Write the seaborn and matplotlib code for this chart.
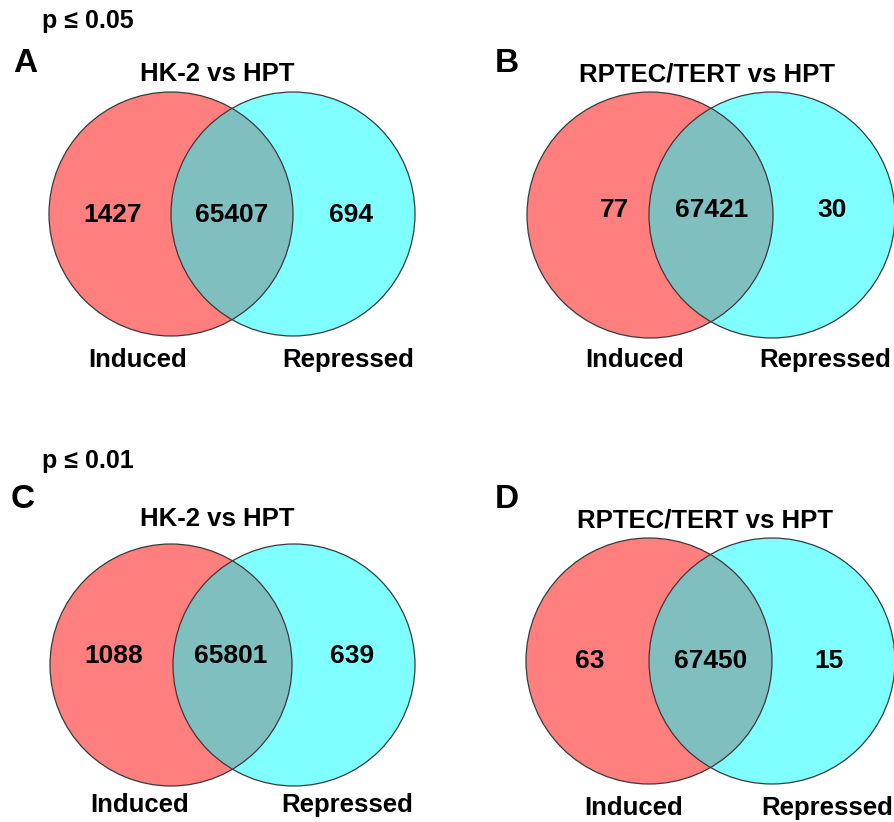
import matplotlib
matplotlib.use("Agg")
import matplotlib.pyplot as plt
from matplotlib.patches import Circle
import seaborn as sns

# --- data ---
panel_letters = ["A", "B", "C", "D"]
comparisons = ["HK-2 vs HPT", "RPTEC/TERT vs HPT", "HK-2 vs HPT", "RPTEC/TERT vs HPT"]
thresholds = ["p \u2264 0.05", None, "p \u2264 0.01", None]
induced_only = [1427, 77, 1088, 63]
shared = [65407, 67421, 65801, 67450]
repressed_only = [694, 30, 639, 15]
set_names = ["Induced", "Repressed"]

# --- layout (pixel space of the 895x822 canvas) ---
# left circle centre x, centre y, radius, circle spacing
circle_geo = [(171, 214, 122, 122), (650, 215, 123, 122),
              (171, 665, 121, 123), (649, 661, 123, 123)]
# baselines: numbers, set labels, title, panel letter
baselines = [(222, 367, 81, 72), (217, 367, 81, 72),
             (663, 812, 526, 508), (668, 815, 528, 508)]
# x of numbers (left, mid, right), labels (induced, repressed), title, letter
xpos = [(113, 232, 351, 138, 348, 217, 25), (615, 712, 832, 635, 825, 707, 507),
        (114, 231, 352, 140, 347, 217, 23), (590, 711, 829, 634, 827, 705, 507)]
thr_pos = [(88, 28), None, (88, 468), None]

sns.set_theme(style="white")
plt.rcParams["font.family"] = ["Liberation Sans", "DejaVu Sans"]
plt.rcParams["text.color"] = "black"

red = "#FF0000"
cyan = "#00FFFF"

fig = plt.figure(figsize=(8.95, 8.22), dpi=100)
ax = fig.add_axes([0, 0, 1, 1])
ax.set_xlim(0, 895)
ax.set_ylim(822, 0)
ax.set_aspect("equal")
ax.axis("off")

for i in range(4):
    cx, cy, r, d = circle_geo[i]
    ax.add_patch(Circle((cx, cy), r, facecolor=red, alpha=0.5, edgecolor="none"))
    ax.add_patch(Circle((cx + d, cy), r, facecolor=cyan, alpha=0.5, edgecolor="none"))
    for x in (cx, cx + d):
        ax.add_patch(Circle((x, cy), r, facecolor="none", edgecolor="#3a3a3a", lw=0.9))

    nb, lb, tb, pb = baselines[i]
    xl, xm, xr, xi, xrep, xt, xp = xpos[i]
    for x, v in zip((xl, xm, xr), (induced_only[i], shared[i], repressed_only[i])):
        ax.text(x, nb, str(v), ha="center", va="baseline", fontsize=19,
                fontweight="bold", color="black")
    ax.text(xi, lb, set_names[0], ha="center", va="baseline", fontsize=18.5,
            fontweight="bold", color="black")
    ax.text(xrep, lb, set_names[1], ha="center", va="baseline", fontsize=18.5,
            fontweight="bold", color="black")
    ax.text(xt, tb, comparisons[i], ha="center", va="baseline", fontsize=18.5,
            fontweight="bold", color="black")
    ax.text(xp, pb, panel_letters[i], ha="center", va="baseline", fontsize=24,
            fontweight="bold", color="black")
    if thresholds[i]:
        tx, ty = thr_pos[i]
        ax.text(tx, ty, thresholds[i], ha="center", va="baseline", fontsize=18,
                fontweight="bold", color="black")

fig.savefig("out.png", dpi=100)
